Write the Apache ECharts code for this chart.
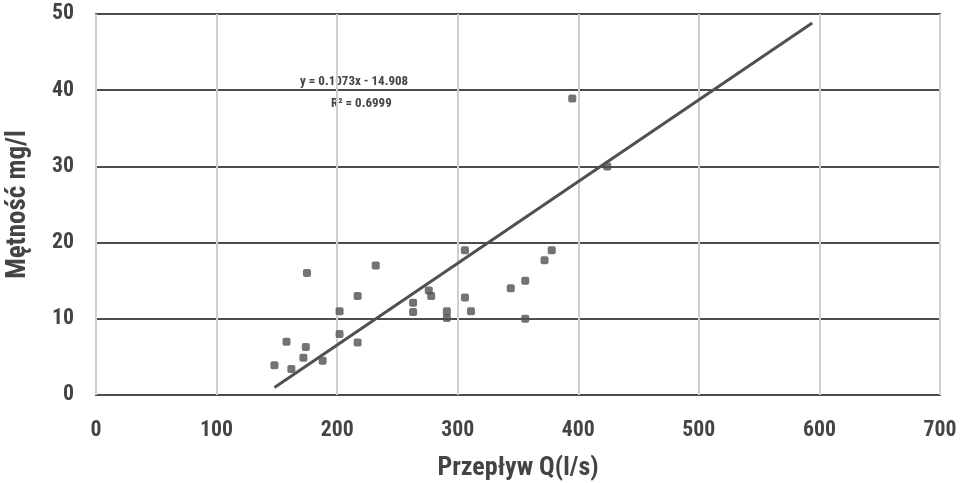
<!DOCTYPE html>
<html><head><meta charset="utf-8">
<script src="https://cdn.jsdelivr.net/npm/echarts@6/dist/echarts.min.js"></script>
<style>html,body{margin:0;padding:0;background:#fff}#c{width:966px;height:483px}</style>
</head><body><div id="c"></div>
<script>
const flowQ = [175,232,306,378,372,356,344,217,276,278,306,311,263,263,291,291,356,202,202,217,158,174,172,188,148,162,395,424];
const turbidity = [16,17,19,19,17.7,15,14,13,13.7,13,12.8,11,12.1,10.9,11,10.1,10,11,8,6.9,7,6.3,4.9,4.5,3.9,3.4,38.9,30];
const trendCoef = [0.1073, -14.908];
const trendRange = [148, 594];
const equationLines = ['y = 0.1073x - 14.908', 'R² = 0.6999'];
const xTicks = [0,100,200,300,400,500,600,700];
const yTicks = [0,10,20,30,40,50];

// pick the narrowest bold font available
const cv = document.createElement('canvas').getContext('2d');
const cands = [
  {w:'bold', f:'"Liberation Sans Narrow"'},
  {w:'bold', f:'"DejaVu Sans Condensed"'},
  {w:'bold condensed', f:'"DejaVu Sans"'},
  {w:'bold', f:'"Roboto Condensed"'},
  {w:'bold', f:'Roboto'},
  {w:'bold', f:'"Liberation Sans"'}
];
function meas(c, s, size){ cv.font = c.w + ' ' + size + 'px ' + c.f; return cv.measureText(s).width; }
let best = cands[cands.length-1], bw = 1e9;
for (const c of cands){ const m = meas(c,'Przepływ Q(l/s) 100',100); if (m>0 && m<bw-0.5){bw=m;best=c;} }
const W = best.w, F = best.f;
function fit(s, target, maxSize){ const m = meas(best, s, 100)/100; return Math.min(maxSize, target/m); }
const tickSize = fit('100', 33, 27);
const xNameSize = fit('Przepływ Q(l/s)', 173, 26);
const yNameSize = fit('Mętność mg/l', 200, 27);
const eqSize = fit(equationLines[0], 142, 13);

const pts = flowQ.map((x,i)=>[x,turbidity[i]]);
const trend = trendRange.map(x=>[x, trendCoef[0]*x + trendCoef[1]]);
const chart = echarts.init(document.getElementById('c'));
chart.setOption({
  animation:false,
  grid:{left:96,right:26,top:14,bottom:88,outerBoundsMode:'none',containLabel:false,show:true,borderColor:'#4d4d4d',borderWidth:2,backgroundColor:'#fff'},
  xAxis:{type:'value',min:xTicks[0],max:xTicks[xTicks.length-1],interval:100,
    name:'Przepływ Q(l/s)',nameLocation:'middle',nameGap:60,
    nameTextStyle:{fontFamily:F,fontWeight:W,fontSize:xNameSize,color:'#444'},
    axisLine:{show:false},axisTick:{show:false},
    axisLabel:{fontFamily:F,fontWeight:W,fontSize:tickSize,color:'#444',margin:25,verticalAlign:'top'},
    splitLine:{show:true,lineStyle:{color:'#cfcfcf',width:2}}},
  yAxis:{type:'value',min:yTicks[0],max:yTicks[yTicks.length-1],interval:10,
    name:'Mętność mg/l',nameLocation:'middle',nameGap:64,
    nameTextStyle:{fontFamily:F,fontWeight:W,fontSize:yNameSize,color:'#444'},
    axisLine:{show:false},axisTick:{show:false},
    axisLabel:{fontFamily:F,fontWeight:W,fontSize:tickSize,color:'#444',margin:22},
    splitLine:{show:true,lineStyle:{color:'#4d4d4d',width:2}}},
  series:[
    {type:'line',data:trend,symbol:'none',lineStyle:{color:'#505050',width:3},z:3},
    {type:'scatter',data:pts,symbol:'roundRect',symbolSize:8,itemStyle:{color:'#505050'},z:4}
  ],
  graphic:[
    {type:'text',left:300,top:75,style:{text:equationLines[0],font:W+' '+eqSize+'px '+F,fill:'#444'}},
    {type:'text',left:331,top:97,style:{text:equationLines[1],font:W+' '+eqSize+'px '+F,fill:'#444'}}
  ]
});
</script></body></html>
